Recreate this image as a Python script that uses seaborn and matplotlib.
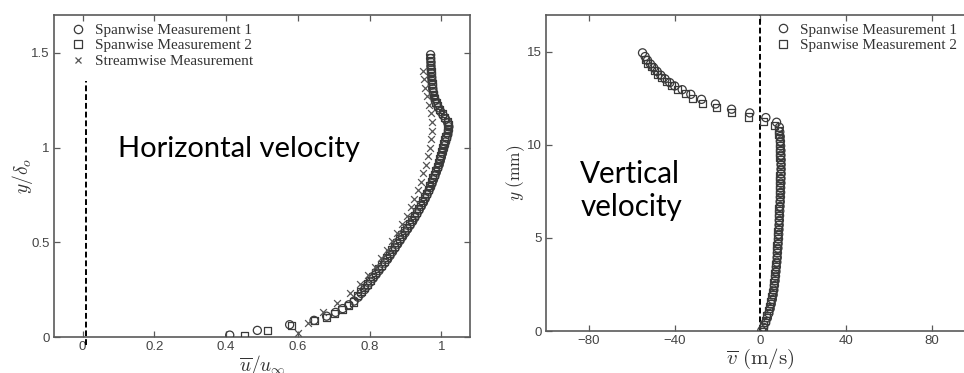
import numpy as np
import pandas as pd
import seaborn as sns
import matplotlib
matplotlib.use("Agg")
import matplotlib.pyplot as plt
from matplotlib.lines import Line2D

# ---------------- data: left panel (horizontal velocity) ----------------
u_span1 = [0.410, 0.487, 0.577, 0.645, 0.680, 0.705, 0.725, 0.742, 0.757,
           0.768, 0.777, 0.786, 0.794, 0.802, 0.810, 0.818, 0.826, 0.834, 0.842,
           0.850, 0.857, 0.864, 0.871, 0.878, 0.885, 0.892, 0.899, 0.906, 0.913,
           0.920, 0.926, 0.932, 0.938, 0.944, 0.950, 0.955, 0.960, 0.965, 0.970,
           0.974, 0.978, 0.982, 0.986, 0.990, 0.994, 0.997, 1.000, 1.003, 1.006,
           1.009, 1.012, 1.015, 1.018, 1.020, 1.021, 1.018, 1.012, 1.005, 0.998,
           0.992, 0.987, 0.983, 0.980, 0.978, 0.976, 0.975, 0.974, 0.973, 0.972,
           0.972, 0.971, 0.971, 0.970, 0.970]
y_span1 = [0.010, 0.035, 0.065, 0.088, 0.110, 0.130, 0.150, 0.170, 0.190,
           0.210, 0.230, 0.250, 0.270, 0.290, 0.310, 0.330, 0.350, 0.370, 0.390,
           0.410, 0.430, 0.450, 0.470, 0.490, 0.510, 0.530, 0.550, 0.570, 0.590,
           0.610, 0.630, 0.650, 0.670, 0.690, 0.710, 0.730, 0.750, 0.770, 0.790,
           0.810, 0.830, 0.850, 0.870, 0.890, 0.910, 0.930, 0.950, 0.970, 0.990,
           1.010, 1.030, 1.050, 1.070, 1.090, 1.110, 1.130, 1.150, 1.170, 1.190,
           1.210, 1.230, 1.250, 1.270, 1.290, 1.310, 1.330, 1.350, 1.370, 1.390,
           1.410, 1.430, 1.450, 1.470, 1.490]

u_span2 = [0.452, 0.515, 0.583, 0.646, 0.679, 0.703, 0.723, 0.740, 0.755,
           0.767, 0.776, 0.785, 0.793, 0.801, 0.809, 0.817, 0.825, 0.833, 0.841,
           0.848, 0.855, 0.862, 0.869, 0.876, 0.883, 0.890, 0.897, 0.904, 0.911,
           0.918, 0.924, 0.930, 0.936, 0.942, 0.948, 0.953, 0.958, 0.963, 0.968,
           0.972, 0.976, 0.980, 0.984, 0.988, 0.992, 0.995, 0.998, 1.001, 1.004,
           1.007, 1.010, 1.013, 1.016, 1.018, 1.019, 1.016, 1.010, 1.002, 0.995,
           0.989, 0.985, 0.981, 0.978, 0.976, 0.975, 0.974, 0.973, 0.972, 0.972,
           0.971, 0.971, 0.970, 0.970]
y_span2 = [0.010, 0.035, 0.060, 0.085, 0.105, 0.125, 0.145, 0.165, 0.185,
           0.220, 0.240, 0.260, 0.280, 0.300, 0.320, 0.340, 0.360, 0.380, 0.400,
           0.420, 0.440, 0.460, 0.480, 0.500, 0.520, 0.540, 0.560, 0.580, 0.600,
           0.620, 0.640, 0.660, 0.680, 0.700, 0.720, 0.740, 0.760, 0.780, 0.800,
           0.820, 0.840, 0.860, 0.880, 0.900, 0.920, 0.940, 0.960, 0.980, 1.000,
           1.020, 1.040, 1.060, 1.080, 1.100, 1.120, 1.140, 1.160, 1.180, 1.200,
           1.220, 1.240, 1.260, 1.280, 1.300, 1.320, 1.340, 1.360, 1.380, 1.400,
           1.420, 1.440, 1.460, 1.475]

u_stream = [0.600, 0.627, 0.670, 0.710, 0.744, 0.772, 0.795, 0.815, 0.832,
            0.848, 0.863, 0.877, 0.890, 0.903, 0.914, 0.925, 0.934, 0.942,
            0.950, 0.957, 0.963, 0.968, 0.972, 0.974, 0.973, 0.970, 0.965,
            0.960, 0.955, 0.951, 0.948]
y_stream = [0.020, 0.075, 0.130, 0.180, 0.230, 0.280, 0.325, 0.370, 0.415,
            0.460, 0.505, 0.550, 0.595, 0.640, 0.685, 0.730, 0.775, 0.820,
            0.865, 0.910, 0.955, 1.000, 1.045, 1.090, 1.135, 1.180, 1.225,
            1.270, 1.315, 1.360, 1.405]

# ---------------- data: right panel (vertical velocity) ----------------
v_span1 = [-55.0, -53.8, -52.7, -51.3, -49.8, -48.2, -46.5, -44.5, -42.3, -40.0,
           -36.5, -32.5, -27.5, -21.0, -13.5, -5.0, 2.5, 7.5, 8.8,
           9.0, 9.2, 9.3, 9.4, 9.5, 9.5, 9.6, 9.6, 9.6, 9.6, 9.5, 9.5, 9.4, 9.4,
           9.3, 9.2, 9.1, 9.0, 8.9, 8.8, 8.7, 8.6, 8.5, 8.4, 8.2, 8.1, 7.9, 7.8,
           7.6, 7.4, 7.2, 7.0, 6.8, 6.5, 6.2, 5.9, 5.5, 5.0, 4.5, 3.9, 3.2, 2.4,
           1.4, 0.6]
yv_span1 = [14.95, 14.75, 14.55, 14.35, 14.15, 13.95, 13.75, 13.55, 13.35, 13.17,
            12.97, 12.72, 12.45, 12.20, 11.92, 11.72, 11.47, 11.22, 10.95,
            10.70, 10.45, 10.20, 9.95, 9.70, 9.45, 9.20, 8.95, 8.70, 8.45, 8.20,
            7.95, 7.70, 7.45, 7.20, 6.95, 6.70, 6.45, 6.20, 5.95, 5.70, 5.45,
            5.20, 4.95, 4.70, 4.45, 4.20, 3.95, 3.70, 3.45, 3.20, 2.95, 2.70,
            2.45, 2.20, 1.95, 1.70, 1.45, 1.20, 0.95, 0.70, 0.45, 0.20, 0.02]

v_span2 = [-53.5, -52.5, -51.0, -49.5, -48.0, -46.0, -44.0, -41.5, -38.5, -35.0,
           -31.5, -27.0, -20.5, -13.5, -5.5, 1.5, 6.5, 8.3,
           8.6, 8.8, 8.9, 9.0, 9.1, 9.1, 9.2, 9.2, 9.2, 9.1, 9.1, 9.0, 9.0, 8.9,
           8.8, 8.7, 8.6, 8.5, 8.4, 8.3, 8.2, 8.1, 8.0, 7.9, 7.7, 7.6, 7.4, 7.3,
           7.1, 6.9, 6.7, 6.5, 6.2, 5.9, 5.6, 5.2, 4.8, 4.3, 3.7, 3.0, 2.3, 1.6,
           1.2]
yv_span2 = [14.60, 14.40, 14.20, 14.00, 13.80, 13.60, 13.40, 13.20, 13.00, 12.75,
            12.50, 12.25, 12.00, 11.75, 11.50, 11.25, 11.05, 10.80,
            10.58, 10.33, 10.08, 9.83, 9.58, 9.33, 9.08, 8.83, 8.58, 8.33, 8.08,
            7.83, 7.58, 7.33, 7.08, 6.83, 6.58, 6.33, 6.08, 5.83, 5.58, 5.33,
            5.08, 4.83, 4.58, 4.33, 4.08, 3.83, 3.58, 3.33, 3.08, 2.83, 2.58,
            2.33, 2.08, 1.83, 1.58, 1.33, 1.08, 0.83, 0.58, 0.33, 0.10]

left_xticks = [0, 0.2, 0.4, 0.6, 0.8, 1]
left_xticklabels = ["0", "0.2", "0.4", "0.6", "0.8", "1"]
left_yticks = [0, 0.5, 1, 1.5]
left_yticklabels = ["0", "0.5", "1", "1.5"]
right_xticks = [-80, -40, 0, 40, 80]
right_xticklabels = ["\u221280", "\u221240", "0", "40", "80"]
right_yticks = [0, 5, 10, 15]
right_yticklabels = ["0", "5", "10", "15"]

legend_labels = ["Spanwise Measurement 1", "Spanwise Measurement 2", "Streamwise Measurement"]

# ---------------- style ----------------
sns.set_theme(style="ticks")
plt.rcParams["font.family"] = ["Liberation Sans", "DejaVu Sans"]
plt.rcParams["mathtext.fontset"] = "cm"

EDGE = "#3a3a3a"
SPINE = "#5a5a5a"
TICKTXT = "#444444"

fig = plt.figure(figsize=(9.64, 3.73), dpi=100)
ax1 = fig.add_axes([0.056, 0.0965, 0.4316, 0.8633])
ax2 = fig.add_axes([0.5664, 0.1126, 0.445, 0.848])

df1 = pd.DataFrame({"u": u_span1, "y": y_span1})
df2 = pd.DataFrame({"u": u_span2, "y": y_span2})
df3 = pd.DataFrame({"u": u_stream, "y": y_stream})

sns.scatterplot(data=df1, x="u", y="y", ax=ax1, marker="o", s=34,
                facecolors="none", edgecolor=EDGE, linewidth=0.9, zorder=3)
sns.scatterplot(data=df2, x="u", y="y", ax=ax1, marker="s", s=26,
                facecolors="none", edgecolor=EDGE, linewidth=0.9, zorder=3)
sns.scatterplot(data=df3, x="u", y="y", ax=ax1, marker="x", s=24,
                color="#555555", linewidth=0.9, zorder=3)

df4 = pd.DataFrame({"v": v_span1, "y": yv_span1})
df5 = pd.DataFrame({"v": v_span2, "y": yv_span2})
sns.scatterplot(data=df4, x="v", y="y", ax=ax2, marker="o", s=34,
                facecolors="none", edgecolor=EDGE, linewidth=0.9, zorder=3)
sns.scatterplot(data=df5, x="v", y="y", ax=ax2, marker="s", s=26,
                facecolors="none", edgecolor=EDGE, linewidth=0.9, zorder=3)

# zero-velocity reference lines
ZERO_U = 0.01
ZERO_V = 0.0
ax1.plot([ZERO_U, ZERO_U], [-0.04, 1.35], color="black", linestyle=(0, (3, 1.5)),
         linewidth=1.4, clip_on=False, zorder=2)
ax2.plot([ZERO_V, ZERO_V], [0, 17], color="black", linestyle=(0, (3, 1.5)),
         linewidth=1.4, zorder=2)

for ax in (ax1, ax2):
    ax.tick_params(direction="in", top=True, right=True, length=4, width=0.9,
                   color=SPINE, labelcolor=TICKTXT, labelsize=9.5, pad=3)
    for sp in ax.spines.values():
        sp.set_color(SPINE)
        sp.set_linewidth(1.2)
        sp.set_visible(True)

ax1.set_xlim(-0.08, 1.08)
ax1.set_ylim(0, 1.7)
ax1.set_xticks(left_xticks)
ax1.set_xticklabels(left_xticklabels)
ax1.set_yticks(left_yticks)
ax1.set_yticklabels(left_yticklabels)
ax1.set_xlabel(r"$\overline{u}/u_\infty$", fontsize=14, color="#333333", labelpad=0)
ax1.set_ylabel(r"$y/\delta_o$", fontsize=14, color="#333333", labelpad=-3)

ax2.set_xlim(-100, 100)
ax2.set_ylim(0, 17)
ax2.set_xticks(right_xticks)
ax2.set_xticklabels(right_xticklabels)
ax2.set_yticks(right_yticks)
ax2.set_yticklabels(right_yticklabels)
ax2.set_xlabel(r"$\overline{v}\ (\mathrm{m/s})$", fontsize=15, color="#333333", labelpad=0)
ax2.set_ylabel(r"$y\ (\mathrm{mm})$", fontsize=12.5, color="#333333", labelpad=0)

# legends
def handles(n):
    mk = [("o", 6.0), ("s", 5.2), ("x", 5.0)]
    hs = []
    for m, ms in mk[:n]:
        if m == "x":
            hs.append(Line2D([], [], linestyle="none", marker=m, markersize=ms,
                             color="#555555", markeredgewidth=0.9))
        else:
            hs.append(Line2D([], [], linestyle="none", marker=m, markersize=ms,
                             markerfacecolor="none", markeredgecolor=EDGE,
                             markeredgewidth=0.9))
    return hs

legend_font = {"family": ["Liberation Serif", "DejaVu Serif"], "size": 11}
leg1 = ax1.legend(handles(3), legend_labels, loc="upper left", frameon=False,
                  prop=legend_font, handlelength=1.0, handletextpad=0.6,
                  labelspacing=0.12, borderaxespad=0.1,
                  bbox_to_anchor=(0.021, 0.998))
for t in leg1.get_texts():
    t.set_color("#333333")
leg2 = ax2.legend(handles(2), legend_labels[:2], loc="upper left", frameon=False,
                  prop=legend_font, handlelength=1.0, handletextpad=0.6,
                  labelspacing=0.12, borderaxespad=0.1,
                  bbox_to_anchor=(0.518, 0.998))
for t in leg2.get_texts():
    t.set_color("#333333")

# slide annotations
ax1.text(0.099, 0.951, "Horizontal velocity", fontsize=21, color="black",
         family=["Lato", "DejaVu Sans"], va="baseline", ha="left")
ax2.text(-84, 6.16, "Vertical\nvelocity", fontsize=21.3, color="black",
         family=["Lato", "DejaVu Sans"], va="baseline", ha="left", linespacing=1.23)

fig.savefig("out.png", dpi=100)
